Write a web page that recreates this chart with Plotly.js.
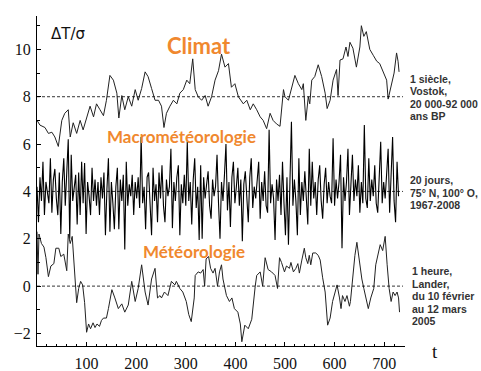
<!DOCTYPE html>
<html><head><meta charset="utf-8">
<script src="https://cdn.plot.ly/plotly-3.0.1.min.js"></script>
<style>html,body{margin:0;padding:0;background:#fff}#g{width:481px;height:371px}</style>
</head><body><div id="g"></div>
<script>
// Climat (Vostok) series
var climatT = [0,6,16,23,30,36,43,50,56,63,67,73,80,87,93,100,107,114,120,127,134,140,147,154,161,165,171,177,184,191,198,204,211,218,224,231,238,245,251,256,261,268,275,282,288,295,302,308,314,319,325,332,339,345,352,359,366,372,379,386,392,399,406,416,423,430,436,443,450,456,463,470,476,483,490,497,500,507,514,520,527,534,537,542,547,550,554,560,567,574,581,585,591,597,604,607,611,617,623,627,631,637,644,651,654,659,664,671,678,685,691,698,705,708,715,720,725,728,730];
var climatV = [7.0,6.8,6.7,6.45,6.5,6.3,5.9,7.0,7.3,7.45,6.3,6.9,6.45,7.0,6.6,7.1,7.6,7.15,7.7,7.45,7.2,7.85,8.9,8.7,8.15,7.1,8.05,7.45,8.0,7.6,8.3,7.85,8.35,9.05,8.85,8.35,7.85,7.85,7.6,6.7,7.3,7.6,7.85,7.7,8.15,8.3,8.7,8.55,9.6,8.3,8.0,7.85,8.05,7.6,8.0,8.7,9.1,9.8,9.25,9.4,8.4,8.55,8.0,7.7,7.85,7.45,7.7,7.45,7.15,7.0,6.65,7.3,7.0,6.85,6.75,8.3,8.0,7.85,8.4,8.9,8.55,8.3,8.55,7.0,8.0,7.7,8.7,8.85,9.35,8.85,8.15,7.5,7.85,8.7,9.15,8.05,9.55,9.6,10.1,9.7,10.3,10.05,9.25,10.1,11.0,10.55,10.75,10.0,9.75,9.5,9.4,9.05,8.7,7.9,8.55,9.0,9.85,9.5,9.05];

// Macrométéorologie series (step 3)
var macroStep = 3;
var macroV = [
4.2,2.7,4.6,3.6,5.25,3.0,4.4,3.8,3.5,5.4,
3.1,4.5,4.95,3.7,3.0,4.8,2.2,4.4,5.4,3.4,
4.6,6.2,2.0,5.55,3.6,4.3,4.7,2.6,4.8,3.0,
5.25,3.5,5.2,2.2,4.4,3.8,3.0,5.0,3.6,4.5,
3.4,4.4,3.0,4.6,3.7,4.8,2.15,4.1,5.4,2.3,
4.4,3.5,2.4,4.2,5.0,2.4,4.5,3.6,4.7,1.55,
5.25,3.4,4.3,3.8,4.7,3.0,4.4,3.7,4.6,3.3,
6.3,3.5,4.2,2.4,4.6,4.8,3.3,2.15,5.0,3.6,
4.3,2.7,4.8,3.7,5.1,3.4,2.7,4.5,3.8,4.2,
5.8,2.45,4.4,3.6,4.6,5.1,2.15,4.3,3.5,4.7,
3.4,6.1,3.6,4.4,2.6,4.5,5.4,3.3,4.2,1.95,
5.1,2.0,4.6,3.7,4.3,4.85,3.4,2.85,4.5,3.8,
4.2,5.55,3.5,2.0,4.4,3.6,4.7,6.0,3.2,4.4,
2.5,4.6,5.25,3.5,4.2,5.0,3.4,4.5,1.9,4.3,
4.85,3.5,2.7,4.6,5.4,3.3,4.2,3.7,4.6,5.25,
2.85,4.4,3.6,4.85,3.4,3.1,6.6,3.5,4.3,3.7,
1.95,4.5,3.6,4.7,3.0,5.25,3.5,2.15,4.6,1.75,
4.4,6.94,3.4,4.5,3.6,2.15,5.4,3.0,4.4,3.6,
4.85,3.5,2.6,5.8,3.4,5.25,3.7,4.4,3.0,4.5,
5.1,3.6,2.85,4.3,5.0,3.5,4.4,3.8,3.5,6.25,
3.4,4.5,3.7,4.4,5.55,1.6,4.6,3.6,4.4,5.8,
3.0,4.3,5.55,3.6,4.5,3.8,5.1,3.1,4.4,3.5,
6.8,3.7,3.3,5.4,3.6,4.5,3.8,5.1,3.5,3.1,
4.6,6.1,3.5,4.4,3.7,4.6,5.8,3.1,4.5,6.3,
3.6,2.7,5.25,3.8];

// Météorologie (Lander) series
var meteoT = [0,2,4,9,14,18,23,28,34,38,44,48,54,60,63,67,71,74,77,80,84,88,92,96,100,104,108,113,117,121,126,130,134,140,144,151,157,164,171,177,184,191,198,204,211,218,224,231,238,243,248,251,257,264,271,278,281,288,294,301,306,311,317,319,325,330,335,338,341,346,350,355,359,364,368,372,375,382,388,393,398,405,410,413,419,426,433,436,440,443,450,455,460,466,473,480,485,489,493,499,503,509,512,517,522,526,529,534,539,542,546,549,552,556,562,567,571,576,581,586,591,596,601,605,610,613,616,621,625,630,632,637,641,645,650,655,659,663,668,673,679,683,688,692,697,702,706,710,714,718,722,726,729,731];
var meteoV = [2.3,0.5,2.2,1.8,1.65,1.2,0.4,0.85,0.95,1.6,1.6,1.25,1.35,0.65,2.2,1.8,2.1,1.3,0.2,-0.7,-0.1,0.2,0.05,-0.7,-1.95,-1.6,-1.8,-1.55,-1.75,-1.6,-1.7,-1.45,-1.35,-1.35,-0.95,-0.15,-0.5,-0.95,-0.75,-1.1,-0.8,0.2,-0.65,-0.1,0.9,-0.25,-0.8,0.3,0.75,-0.5,-0.4,-0.5,-0.25,-0.4,0.2,0.05,0.2,-0.1,-0.25,-0.65,-1.2,-1.5,-0.5,0.45,0.6,0.55,0.7,0.0,1.15,1.25,0.75,0.55,0.75,0.0,0.6,0.9,0.3,-0.4,-0.65,-0.5,-0.95,-1.1,-1.6,-2.35,-1.65,-1.8,-1.4,-0.7,0.0,0.45,0.6,0.0,1.2,0.7,0.6,0.45,-0.1,1.2,1.0,0.6,0.85,0.75,1.0,0.6,0.75,0.95,0.55,1.1,1.6,1.2,0.95,1.3,0.9,1.4,1.4,1.3,1.1,0.35,-0.25,-1.65,-1.35,-0.65,-0.25,0.05,-0.5,-0.95,-0.4,-0.65,-0.4,-0.85,-0.65,0.45,1.3,1.85,1.0,0.3,-0.1,-0.45,-0.95,-0.5,-0.1,0.9,1.45,1.75,1.5,2.1,0.9,-0.1,-0.65,-0.25,-0.4,-0.25,-0.5,-1.1];

var refLevels = [8, 4, 0];
var xTicks = [100,200,300,400,500,600,700];
var yTicks = [-2,0,2,4,6,8,10];
var yTickText = ['\u22122','0','2','4','6','8','10'];

var blockClimat = ['1 siècle,','Vostok,','20 000-92 000','ans BP'];
var blockMacro = ['20 jours,','75° N, 100° O,','1967-2008'];
var blockMeteo = ['1 heure,','Lander,','du 10 février','au 12 mars','2005'];

var macroT = macroV.map(function(_, i){ return i * macroStep; });

var L = 37, R = 405, T = 16, B = 346;
function px(x){ return (x - L) / (R - L); }
function py(y){ return (B - y) / (B - T); }

var serif = '"Liberation Serif", "Times New Roman", "DejaVu Serif", serif';

var traces = [
  {x: climatT, y: climatV, mode:'lines', line:{color:'#222', width:1}, hoverinfo:'skip'},
  {x: macroT, y: macroV, mode:'lines', line:{color:'#000', width:1.1}, hoverinfo:'skip'},
  {x: meteoT, y: meteoV, mode:'lines', line:{color:'#222', width:1}, hoverinfo:'skip'}
];

var shapes = refLevels.map(function(v){
  return {type:'line', xref:'x', yref:'y', x0:0, x1:738, y0:v, y1:v,
          line:{color:'#000', width:0.8, dash:'3px,2px'}};
});

var orange = '#F0882E';
var ann = [
  {text:'\u0394T/\u03c3', x:px(49), y:py(34), xanchor:'left', yanchor:'middle', font:{family:'DejaVu Sans', size:15, color:'#111'}},
  {text:'<b>Climat</b>', x:px(199), y:py(45), xanchor:'center', yanchor:'middle', font:{family:'Lato', size:22, color:orange}},
  {text:'<b>Macrométéorologie</b>', x:px(181), y:py(136), xanchor:'center', yanchor:'middle', font:{family:'Lato', size:17, color:orange}},
  {text:'<b>Météorologie</b>', x:px(194), y:py(251), xanchor:'center', yanchor:'middle', font:{family:'Lato', size:17, color:orange}},
  {text:'t', x:px(435), y:py(352), xanchor:'center', yanchor:'middle', font:{family:serif, size:19, color:'#111'}}
];
function addBlock(lines, x0, y0, dy){
  lines.forEach(function(s, i){
    ann.push({text:'<b>'+s+'</b>', x:px(x0), y:py(y0 + i*dy), xanchor:'left', yanchor:'middle',
      font:{family:'Liberation Sans', size:10.5, color:'#333'}});
  });
}
addBlock(blockClimat, 408, 79, 12.3);
addBlock(blockMacro, 408, 180, 12.5);
addBlock(blockMeteo, 410, 271, 12.5);
ann.forEach(function(a){ a.xref='paper'; a.yref='paper'; a.showarrow=false; });

var layout = {
  width:481, height:371, showlegend:false,
  margin:{l:L, r:481-R, t:T, b:371-B, pad:0},
  paper_bgcolor:'#fff', plot_bgcolor:'#fff',
  xaxis:{range:[0,742], showgrid:false, zeroline:false, showline:true, linecolor:'#000', linewidth:1,
    tickmode:'array', tickvals:xTicks, ticktext:xTicks.map(String), ticks:'inside', ticklen:4, tickcolor:'#000',
    minor:{dtick:20, tick0:0, ticks:'inside', ticklen:2.5, tickcolor:'#000', showgrid:false},
    tickfont:{family:serif, size:16, color:'#111'}, ticklabelstandoff:3, fixedrange:true},
  yaxis:{range:[-2.53,11.41], showgrid:false, zeroline:false, showline:true, linecolor:'#000', linewidth:1,
    tickmode:'array', tickvals:yTicks, ticktext:yTickText, ticks:'inside', ticklen:4, tickcolor:'#000',
    minor:{dtick:1, tick0:0, ticks:'inside', ticklen:2.5, tickcolor:'#000', showgrid:false},
    tickfont:{family:serif, size:16, color:'#111'}, ticklabelstandoff:2, fixedrange:true},
  shapes:shapes, annotations:ann
};
Plotly.newPlot('g', traces, layout, {displayModeBar:false, staticPlot:true});
</script></body></html>
